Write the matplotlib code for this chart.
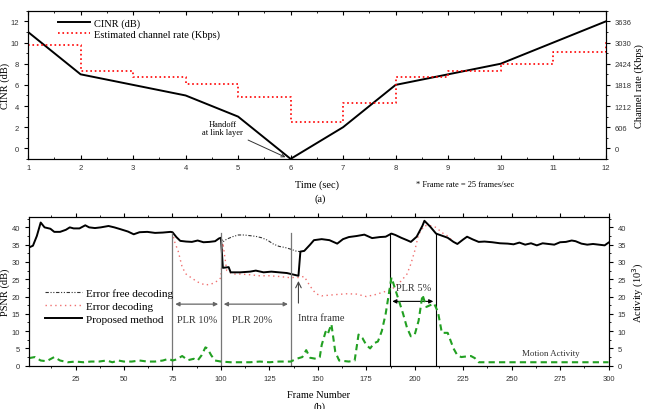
import matplotlib.pyplot as plt
import numpy as np
from matplotlib.ticker import MultipleLocator

plt.rcParams['font.family'] = ['Liberation Serif', 'DejaVu Serif']

# ---- (a) CINR vs time ----
time_sec = [1, 2, 3, 4, 5, 6, 7, 8, 9, 10, 11, 12]
cinr_db = [11, 7, 6, 5, 3, -1, 2, 6, 7, 8, 10, 12]
rate_kbps = [2949, 2220, 2030, 1847, 1485, 755, 1312, 2030, 2220, 2412, 2766, 3100]

# ---- (b) PSNR vs frame ----
prop_f = [1, 3, 5, 7, 9, 12, 14, 17, 20, 22, 24, 27, 30, 32, 35, 38, 42, 45, 48, 52,
          55, 58, 62, 66, 70, 74, 75, 77, 79, 82, 85, 88, 91, 94, 97, 99, 100, 101, 104, 105,
          110, 115, 118, 122, 126, 130, 134, 137, 140, 141, 143, 146, 148, 152, 156, 160, 163, 166, 170, 174,
          178, 182, 185, 188, 190, 193, 196, 198, 201, 204, 205, 208, 211, 214, 217, 220, 222, 225, 227, 230,
          233, 236, 240, 244, 248, 251, 254, 257, 260, 263, 266, 269, 272, 275, 278, 281, 283, 286, 289, 292,
          295, 298, 300]
prop_v = [34.2, 34.7, 37.5, 41.4, 40.0, 39.6, 38.7, 38.7, 39.3, 40.0, 39.7, 39.7, 40.6, 40.0, 39.8, 40.0, 40.4, 40.0, 39.5, 38.8,
          38.0, 38.6, 38.7, 38.4, 38.5, 38.7, 38.6, 37.2, 36.1, 35.9, 35.8, 36.2, 35.7, 35.8, 36.0, 36.8, 37.0, 28.3, 28.5, 27.0,
          27.0, 27.2, 27.5, 27.0, 27.2, 27.0, 26.8, 26.4, 26.0, 33.0, 33.2, 35.0, 36.3, 36.6, 36.3, 35.3, 36.6, 37.2, 37.5, 37.9,
          36.9, 37.2, 37.3, 38.2, 37.8, 37.0, 36.3, 35.8, 37.3, 40.5, 41.9, 40.2, 38.2, 37.6, 37.0, 35.8, 35.2, 36.5, 37.3, 36.5,
          35.8, 35.9, 35.7, 35.4, 35.3, 35.1, 35.6, 35.0, 35.4, 34.8, 35.4, 35.2, 35.0, 35.7, 35.8, 36.2, 36.0, 35.3, 35.0, 35.2,
          35.0, 34.8, 35.6]

# error free decoding (only where it differs from proposed)
free_f = [100, 101, 103, 106, 109, 112, 115, 118, 121, 124, 127, 130, 133, 136, 139, 141]
free_v = [37.0, 35.8, 36.6, 37.3, 37.8, 37.8, 37.6, 37.4, 37.0, 36.3, 35.2, 34.5, 34.2, 33.7, 33.1, 33.0]

# error decoding (only where it differs from proposed)
err_f = [75, 76, 78, 80, 82, 85, 88, 92, 96, 99, 100, 101, 103, 106, 110, 115, 120, 125, 130, 135,
         140, 143, 146, 149, 152, 156, 160, 165, 170, 175, 180, 185, 188, 190, 193, 196, 198, 200, 202, 205,
         208, 211, 214, 217, 220]
err_v = [38.6, 36.0, 33.0, 28.5, 26.5, 25.3, 24.2, 23.3, 23.8, 24.8, 25.5, 35.5, 27.5, 26.5, 26.5, 26.3, 26.0, 26.0, 25.8, 25.5,
         25.5, 25.8, 23.0, 20.8, 20.2, 20.4, 20.6, 20.8, 20.7, 20.0, 20.6, 21.5, 22.0, 23.0, 24.5, 26.5, 29.4, 33.2, 38.0, 40.5,
         40.5, 40.0, 38.5, 37.5, 35.8]

act_f = [1, 4, 7, 10, 14, 17, 21, 25, 29, 33, 37, 41, 44, 47, 50, 54, 58, 62, 66, 70,
         73, 75, 77, 80, 83, 86, 88, 90, 92, 93, 95, 97, 100, 105, 110, 115, 120, 125, 130, 136,
         139, 142, 144, 146, 149, 151, 152, 154, 155, 157, 159, 161, 166, 169, 171, 173, 175, 177, 179, 181,
         183, 185, 187, 188, 190, 192, 194, 196, 198, 200, 202, 204, 206, 208, 210, 212, 214, 217, 220, 222,
         224, 227, 229, 231, 233, 240, 250, 260, 270, 280, 290, 300]
act_v = [2.2, 2.5, 1.5, 1.3, 2.5, 1.5, 1.0, 1.2, 1.0, 1.2, 1.2, 1.5, 1.0, 1.5, 1.2, 1.2, 1.5, 1.2, 1.2, 1.5,
         2.0, 1.5, 1.8, 2.8, 1.6, 2.0, 1.5, 3.0, 5.3, 5.0, 3.0, 1.5, 1.2, 1.0, 1.0, 1.0, 1.2, 1.0, 1.2, 1.2,
         2.0, 2.5, 4.5, 2.3, 2.0, 2.5, 6.0, 9.8, 9.0, 12.0, 4.0, 1.5, 1.2, 1.5, 9.0, 8.0, 6.0, 5.0, 6.5, 7.0,
         10.0, 15.0, 22.0, 25.5, 22.0, 18.5, 15.0, 11.0, 8.5, 9.0, 13.0, 20.5, 17.0, 17.5, 18.0, 15.5, 9.5, 9.5, 5.0, 3.0,
         2.5, 2.7, 2.8, 2.2, 1.0, 1.0, 1.0, 1.0, 1.0, 1.0, 1.0, 1.0]

plr_lines_grey = [75, 100, 136]
plr_lines_black = [187, 211]

fig = plt.figure(figsize=(6.46, 4.10), dpi=100)
tick_font = dict(labelsize=5.5, labelcolor='#333333', labelfontfamily='Liberation Sans')

# ================= (a) =================
ax1 = fig.add_axes([0.0435, 0.61, 0.894, 0.361])
ax1.plot(time_sec, cinr_db, color='black', lw=1.4, label='CINR (dB)')
ax1.plot([], [], color='red', ls=':', lw=1.2, label='Estimated channel rate (Kbps)')
ax1.set_xlim(1, 12)
ax1.set_ylim(-1, 13)
ax1.set_xticks(np.arange(1, 13, 1))
ax1.set_yticks(np.arange(0, 13, 2))
ax1.xaxis.set_minor_locator(MultipleLocator(0.5))
ax1.yaxis.set_minor_locator(MultipleLocator(1))
ax1.tick_params(which='both', **tick_font)
ax1.tick_params(axis='x', which='both', top=True, direction='in')
ax1.tick_params(which='major', length=3)
ax1.tick_params(which='minor', length=1.5)
ax1.set_xlabel('Time (sec)', fontsize=7.5, labelpad=6)
ax1.set_ylabel('CINR (dB)', fontsize=7.5, labelpad=0.5)

ax1r = ax1.twinx()
ax1r.step(time_sec, rate_kbps, where='post', color='red', ls=':', lw=1.2)
ax1r.set_ylim(-303, 3939)
ax1r.set_yticks(np.arange(0, 3637, 606))
ax1r.yaxis.set_minor_locator(MultipleLocator(303))
ax1r.tick_params(which='both', **tick_font)
ax1r.tick_params(which='major', length=3)
ax1r.tick_params(which='minor', length=1.5)
ax1r.set_ylabel('Channel rate (Kbps)', fontsize=7.5, labelpad=2)

ax1.legend(loc='upper left', bbox_to_anchor=(0.04, 1.0), frameon=False, fontsize=7.5,
           handlelength=3.0, handletextpad=0.4, labelspacing=0.15, borderaxespad=0.3)
ax1.annotate('Handoff\nat link layer', xy=(5.95, -0.95), xytext=(4.7, 1.9),
             fontsize=6, ha='center', va='center', linespacing=1.0,
             arrowprops=dict(arrowstyle='->', color='#333333', lw=0.7))
fig.text(0.72, 0.548, '* Frame rate = 25 frames/sec', fontsize=6, ha='center', va='center')
fig.text(0.495, 0.515, '(a)', fontsize=7.5, ha='center', va='center')

# ================= (b) =================
ax2 = fig.add_axes([0.045, 0.1056, 0.897, 0.3627])
ax2.plot(free_f, free_v, color='#333333', lw=0.8, ls=(0, (3, 1.5, 1, 1.5, 1, 1.5)),
         label='Error free decoding')
ax2.plot(err_f, err_v, color='#f07070', lw=1.0, ls=(0, (1, 2.5)), label='Error decoding')
ax2.plot(prop_f, prop_v, color='black', lw=1.4, label='Proposed method')
for f in plr_lines_grey:
    ax2.plot([f, f], [0, 38.5], color='#777777', lw=0.9)
for f in plr_lines_black:
    ax2.plot([f, f], [0, 38.5], color='black', lw=0.8)
ax2.set_xlim(1, 300)
ax2.set_ylim(0, 43)
ax2.set_xticks(np.arange(25, 301, 25))
ax2.set_yticks(np.arange(0, 41, 5))
ax2.xaxis.set_minor_locator(MultipleLocator(12.5))
ax2.yaxis.set_minor_locator(MultipleLocator(2.5))
ax2.tick_params(which='both', **tick_font)
ax2.tick_params(axis='x', which='both', top=True)
ax2.tick_params(which='major', length=3)
ax2.tick_params(which='minor', length=1.5)
ax2.set_xlabel('Frame Number', fontsize=7.5, labelpad=6)
ax2.set_ylabel('PSNR (dB)', fontsize=7.5, labelpad=1)
ax2.legend(loc='upper left', bbox_to_anchor=(0.02, 0.55), frameon=False, fontsize=8,
           handlelength=3.3, handletextpad=0.4, labelspacing=0.3, borderaxespad=0.0)

ax2.annotate('', xy=(75, 17.8), xytext=(100, 17.8),
             arrowprops=dict(arrowstyle='<|-|>', color='#666666', lw=0.9, mutation_scale=6))
ax2.annotate('', xy=(100, 17.8), xytext=(136, 17.8),
             arrowprops=dict(arrowstyle='<|-|>', color='#666666', lw=0.9, mutation_scale=6))
ax2.annotate('', xy=(187, 18.6), xytext=(211, 18.6),
             arrowprops=dict(arrowstyle='<|-|>', color='black', lw=0.8, mutation_scale=6))
ax2.annotate('', xy=(140, 25.3), xytext=(140, 17.3),
             arrowprops=dict(arrowstyle='->', color='#444444', lw=0.8))
ax2.text(87.5, 13.3, 'PLR 10%', fontsize=7.5, ha='center', va='center', color='#333333')
ax2.text(116, 13.3, 'PLR 20%', fontsize=7.5, ha='center', va='center', color='#333333')
ax2.text(152, 14.0, 'Intra frame', fontsize=7.5, ha='center', va='center', color='#333333')
ax2.text(199.5, 22.5, 'PLR 5%', fontsize=7.5, ha='center', va='center', color='#333333')
ax2.text(270, 3.7, 'Motion Activity', fontsize=6.5, ha='center', va='center', color='#333333')

ax2r = ax2.twinx()
ax2r.plot(act_f, act_v, color='#22a022', lw=1.5, ls=(0, (3, 2)))
ax2r.set_ylim(0, 43)
ax2r.set_yticks(np.arange(0, 41, 5))
ax2r.yaxis.set_minor_locator(MultipleLocator(2.5))
ax2r.tick_params(which='both', **tick_font)
ax2r.tick_params(which='major', length=3)
ax2r.tick_params(which='minor', length=1.5)
ax2r.set_ylabel('Activity (10$^3$)', fontsize=7.5, labelpad=3)
fig.text(0.495, 0.008, '(b)', fontsize=7.5, ha='center', va='center')

fig.savefig('out.png', dpi=100)
